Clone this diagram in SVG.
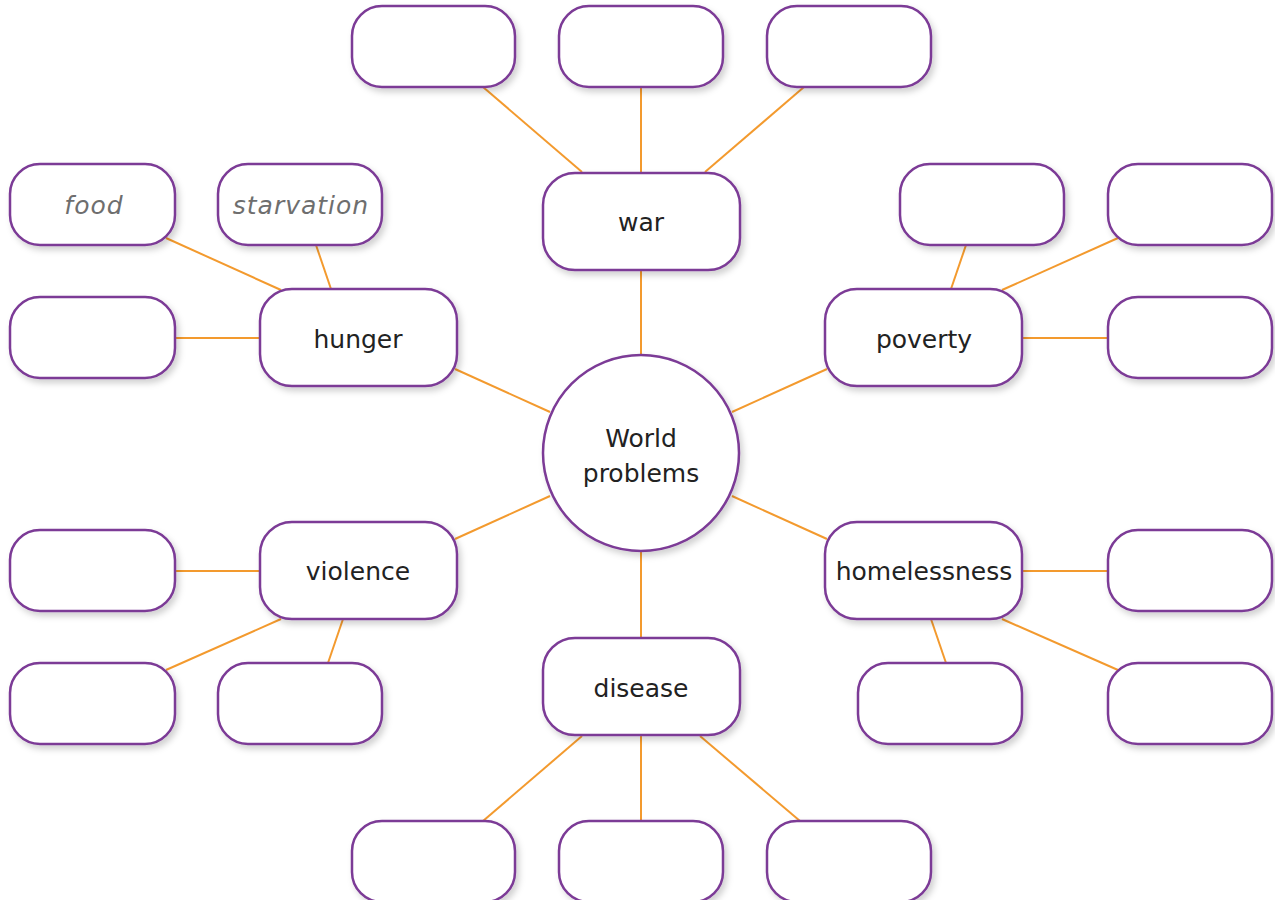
<svg xmlns="http://www.w3.org/2000/svg" width="1275" height="900" viewBox="0 0 1275 900">
<defs>
<filter id="sh" x="-20%" y="-20%" width="140%" height="150%">
<feDropShadow dx="3" dy="4" stdDeviation="3" flood-color="#000" flood-opacity="0.18"/>
</filter>
<style>
.b{fill:#fff;stroke:#7B3A96;stroke-width:2.5;filter:url(#sh)}
.c line{stroke:#F39A2E;stroke-width:2}
.t{font-family:"DejaVu Sans",sans-serif;font-size:25px;fill:#222;text-anchor:middle}
.i{font-family:"DejaVu Sans",sans-serif;font-size:25px;font-style:italic;fill:#6e6e6e;text-anchor:middle;letter-spacing:1px}
</style>
</defs>
<rect width="1275" height="900" fill="#fff"/>
<g class="c" id="connectors">
<line x1="641" y1="270" x2="641" y2="355"/>
<line x1="641" y1="172" x2="641" y2="87"/>
<line x1="582" y1="172" x2="483" y2="87"/>
<line x1="705" y1="172" x2="804" y2="87"/>
<line x1="455" y1="369" x2="550" y2="412"/>
<line x1="166" y1="238" x2="281" y2="290"/>
<line x1="316" y1="245" x2="331" y2="289"/>
<line x1="175" y1="338" x2="260" y2="338"/>
<line x1="827" y1="369" x2="732" y2="412"/>
<line x1="966" y1="245" x2="951" y2="289"/>
<line x1="1118" y1="238" x2="1002" y2="290"/>
<line x1="1022" y1="338" x2="1108" y2="338"/>
<line x1="455" y1="539" x2="550" y2="496"/>
<line x1="175" y1="571" x2="260" y2="571"/>
<line x1="281" y1="619" x2="166" y2="670"/>
<line x1="343" y1="619" x2="328" y2="663"/>
<line x1="827" y1="539" x2="732" y2="496"/>
<line x1="1022" y1="571" x2="1108" y2="571"/>
<line x1="931" y1="619" x2="946" y2="663"/>
<line x1="1002" y1="619" x2="1118" y2="670"/>
<line x1="641" y1="551" x2="641" y2="638"/>
<line x1="582" y1="736" x2="483" y2="821"/>
<line x1="641" y1="736" x2="641" y2="821"/>
<line x1="700" y1="736" x2="800" y2="821"/>
</g>
<g id="center"><circle class="b" cx="641" cy="453" r="98"/><text class="t" x="641" y="447">World</text><text class="t" x="641" y="482">problems</text></g>
<g id="war"><rect class="b" x="543" y="173" width="197" height="97" rx="32"/><text class="t" x="641" y="231">war</text></g>
<g id="hunger"><rect class="b" x="260" y="289" width="197" height="97" rx="32"/><text class="t" x="358" y="348">hunger</text></g>
<g id="poverty"><rect class="b" x="825" y="289" width="197" height="97" rx="32"/><text class="t" x="924" y="348">poverty</text></g>
<g id="violence"><rect class="b" x="260" y="522" width="197" height="97" rx="32"/><text class="t" x="358" y="580">violence</text></g>
<g id="homelessness"><rect class="b" x="825" y="522" width="197" height="97" rx="32"/><text class="t" x="924" y="580">homelessness</text></g>
<g id="disease"><rect class="b" x="543" y="638" width="197" height="97" rx="32"/><text class="t" x="641" y="697">disease</text></g>
<g id="war-1"><rect class="b" x="352" y="6" width="163" height="81" rx="30"/></g>
<g id="war-2"><rect class="b" x="559" y="6" width="164" height="81" rx="30"/></g>
<g id="war-3"><rect class="b" x="767" y="6" width="164" height="81" rx="30"/></g>
<g id="food"><rect class="b" x="10" y="164" width="165" height="81" rx="30"/><text class="i" x="94" y="214">food</text></g>
<g id="starvation"><rect class="b" x="218" y="164" width="164" height="81" rx="30"/><text class="i" x="301" y="214">starvation</text></g>
<g id="hunger-3"><rect class="b" x="10" y="297" width="165" height="81" rx="30"/></g>
<g id="poverty-1"><rect class="b" x="900" y="164" width="164" height="81" rx="30"/></g>
<g id="poverty-2"><rect class="b" x="1108" y="164" width="164" height="81" rx="30"/></g>
<g id="poverty-3"><rect class="b" x="1108" y="297" width="164" height="81" rx="30"/></g>
<g id="violence-1"><rect class="b" x="10" y="530" width="165" height="81" rx="30"/></g>
<g id="violence-2"><rect class="b" x="10" y="663" width="165" height="81" rx="30"/></g>
<g id="violence-3"><rect class="b" x="218" y="663" width="164" height="81" rx="30"/></g>
<g id="homelessness-1"><rect class="b" x="1108" y="530" width="164" height="81" rx="30"/></g>
<g id="homelessness-2"><rect class="b" x="858" y="663" width="164" height="81" rx="30"/></g>
<g id="homelessness-3"><rect class="b" x="1108" y="663" width="164" height="81" rx="30"/></g>
<g id="disease-1"><rect class="b" x="352" y="821" width="163" height="81" rx="30"/></g>
<g id="disease-2"><rect class="b" x="559" y="821" width="164" height="81" rx="30"/></g>
<g id="disease-3"><rect class="b" x="767" y="821" width="164" height="81" rx="30"/></g>
</svg>
